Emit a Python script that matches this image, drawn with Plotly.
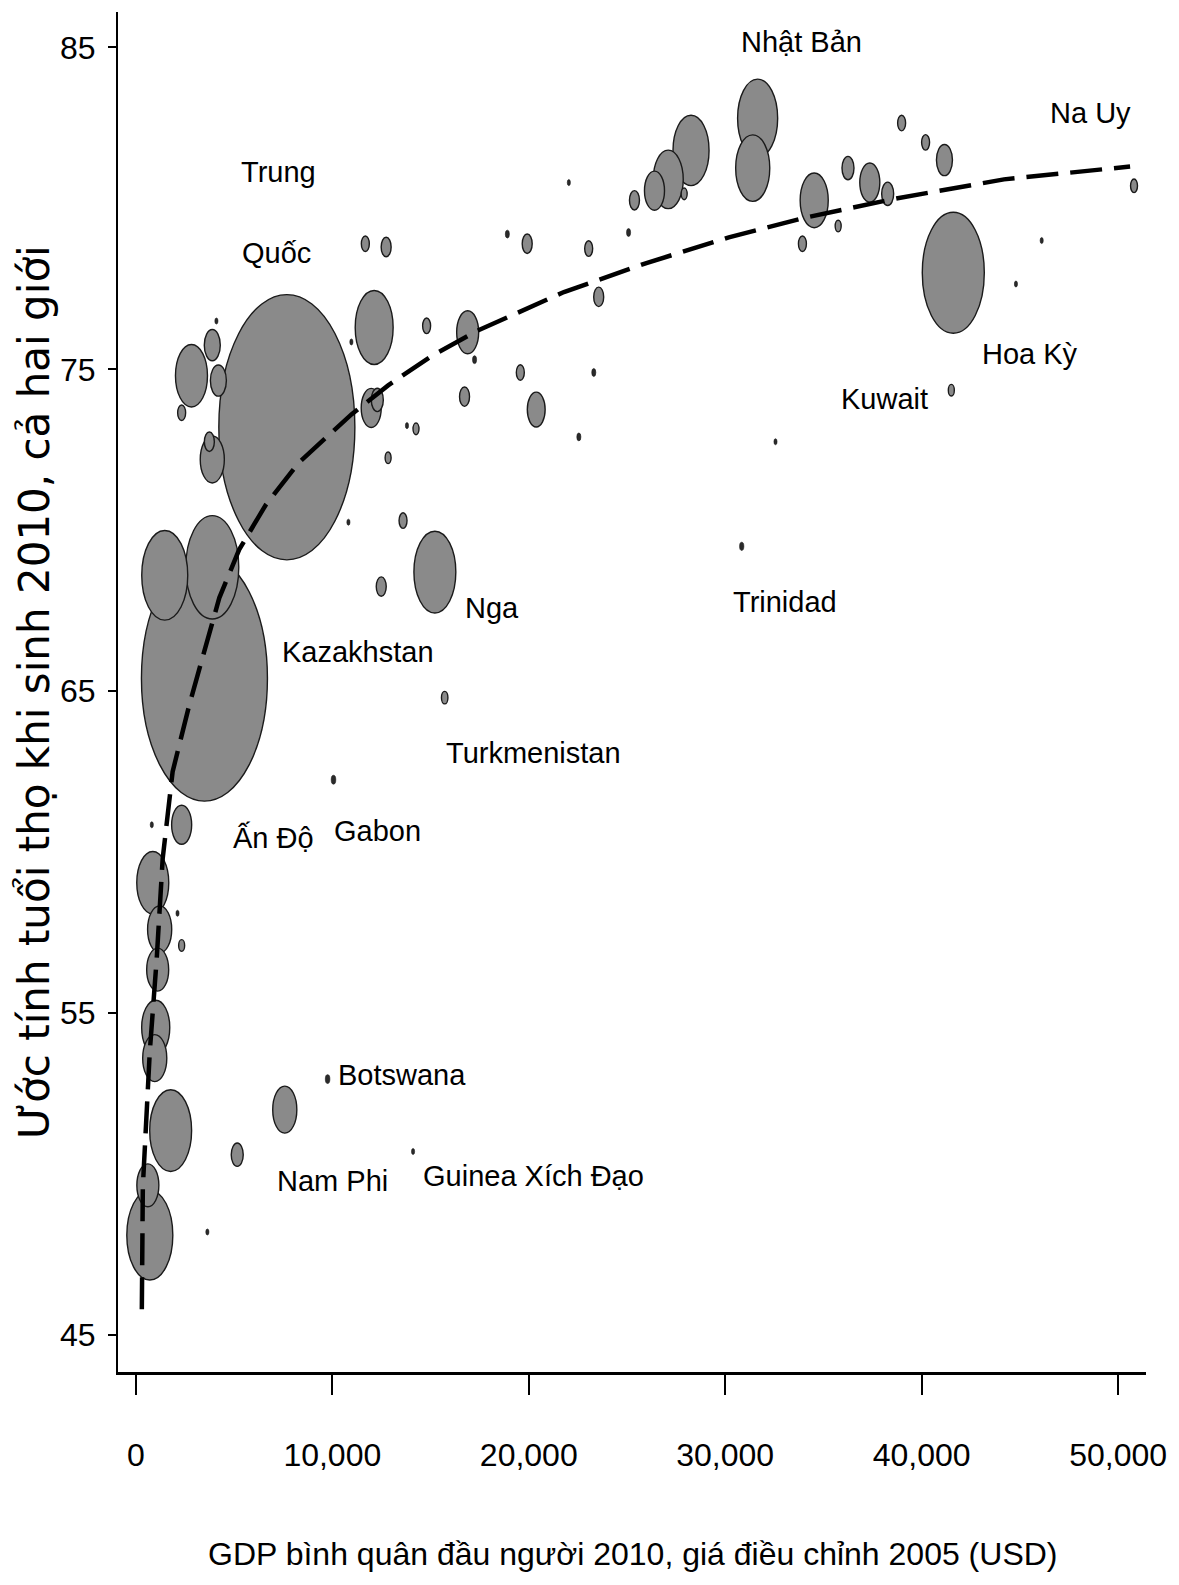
import math
import plotly.graph_objects as go

# ---------------- data ----------------
# GDP per capita 2010 (2005 USD), life expectancy 2010, population (millions)
gdp = [7685, 3490, 1470, 3890, 12130, 15220, 31650, 31400, 41610, 28260,
       27100, 26400, 34530, 37360, 41160, 38270, 36250, 38980, 40200, 50810,
       33930, 35750, 41510, 46110, 44800, 30840, 32560, 25380, 22040, 25080,
       27910, 19920, 18910, 23050, 23560, 16890, 14800, 17240, 16730, 19570,
       20380, 23310, 14260, 22550, 11680, 12740, 2830, 3890, 4200, 2330,
       4100, 10970, 11980, 12840, 3740, 3890, 10820, 13600, 12490, 10060,
       15720, 860, 1210, 1110, 1010, 960, 1770, 610, 710, 2120,
       2330, 810, 2330, 7580, 5160, 3640, 9760, 14110, 13800, 12290]
life_exp = [73.2, 65.4, 68.6, 68.85, 76.3, 68.7, 82.8, 81.25, 78.0, 81.8,
            80.9, 80.55, 80.25, 80.8, 81.5, 80.45, 81.25, 82.65, 82.05, 80.7,
            78.9, 79.45, 74.35, 79.0, 77.65, 69.5, 72.75, 80.25, 80.8, 79.25,
            80.45, 78.9, 79.2, 78.75, 77.25, 76.15, 76.35, 75.3, 74.15, 74.9,
            73.75, 74.9, 73.15, 72.9, 78.9, 78.8, 74.8, 75.75, 74.65, 73.65,
            76.5, 75.85, 73.8, 72.25, 72.75, 72.2, 70.25, 70.3, 68.25, 62.25,
            64.8, 59.05, 57.6, 56.35, 54.55, 53.6, 51.35, 49.65, 48.1, 58.1,
            57.1, 60.85, 60.85, 52.0, 50.6, 48.2, 52.95, 50.7, 73.25, 74.05]
population = [1337, 1147, 153, 203, 104, 127, 116, 84, 278, 94,
              65, 29, 57, 29, 18.5, 10.4, 10.4, 4.6, 4.6, 3.5,
              4.6, 2.6, 2.6, 0.7, 0.7, 1.3, 0.7, 7.2, 0.7, 1.2,
              2.6, 7.2, 1.2, 4.6, 7.2, 35, 4.6, 1.2, 7.2, 4.6,
              23, 1.2, 2.6, 1.2, 4.6, 7.2, 74, 18.5, 18.5, 4.6,
              0.7, 0.7, 29, 2.6, 7.2, 42, 0.7, 4.6, 7.2, 1.5,
              3.0, 74, 42, 35, 57, 42, 127, 35, 153, 0.7,
              2.6, 0.7, 29, 42, 10.4, 0.7, 1.5, 0.7, 0.7, 10.4]

# fitted trend curve
trend_gdp = [303, 354, 708, 1062, 1365, 1871, 2730, 3590, 4247, 5258, 6623,
             8292, 10972, 12842, 15016, 17393, 21791, 25988, 30184, 34000,
             38628, 44189, 50610]
trend_le = [45.8, 49.6, 53.8, 56.7, 59.8, 62.5, 64.6, 66.5, 67.9, 69.4, 70.8,
            72.1, 73.6, 74.5, 75.4, 76.2, 77.4, 78.3, 79.1, 79.7,
            80.3, 80.9, 81.3]

# country labels
label_text = ["Trung", "Quốc", "Nhật Bản", "Na Uy", "Hoa Kỳ", "Kuwait", "Nga",
              "Kazakhstan", "Trinidad", "Turkmenistan", "Gabon", "Ấn Độ",
              "Botswana", "Nam Phi", "Guinea Xích Đạo"]
label_gdp = [7281, 7180, 33875, 48590, 45500, 38120, 18150, 11325, 33066,
             20224, 12286, 7028, 13550, 10011, 20224]
label_le = [81.12, 78.6, 85.16, 82.95, 75.47, 74.07, 67.6, 66.21, 67.76,
            63.07, 60.65, 60.47, 53.07, 49.78, 49.94]

x_ticks = [0, 10000, 20000, 30000, 40000, 50000]
y_ticks = [45, 55, 65, 75, 85]

x_title = "GDP bình quân đầu người 2010, giá điều chỉnh 2005 (USD)"
y_title = "Ước tính tuổi thọ khi sinh 2010, cả hai giới"

# ---------------- styling ----------------
NARROW = "Liberation Sans, Arial, sans-serif"
WIDE = "DejaVu Sans, Verdana, sans-serif"
K = 1.86        # px of horizontal radius per sqrt(million people)
STRETCH = 1.95  # vertical / horizontal radius ratio

fig = go.Figure()

# bubbles as ellipses anchored at data coordinates, sized in pixels
order = sorted(range(len(gdp)), key=lambda i: -population[i])
shapes = []
for i in order:
    rx = K * math.sqrt(population[i])
    ry = rx * STRETCH
    small = population[i] < 2
    shapes.append(dict(
        type="circle", xref="x", yref="y",
        xsizemode="pixel", ysizemode="pixel",
        xanchor=gdp[i], yanchor=life_exp[i],
        x0=-rx, x1=rx, y0=-ry, y1=ry,
        fillcolor="#2a2a2a" if small else "#8a8a8a",
        line=dict(color="#1a1a1a", width=1.4 if not small else 0.6),
        layer="below",
    ))

# invisible points carrying the data (hover)
fig.add_trace(go.Scatter(
    x=gdp, y=life_exp, mode="markers",
    marker=dict(size=2, color="rgba(0,0,0,0)"),
    customdata=population,
    hovertemplate="GDP: %{x:,}<br>Tuổi thọ: %{y}<br>Dân số: %{customdata} triệu<extra></extra>",
    showlegend=False,
))

# dashed trend line
fig.add_trace(go.Scatter(
    x=trend_gdp, y=trend_le, mode="lines",
    line=dict(color="black", width=4.5, dash="32px,12px", shape="linear"),
    hoverinfo="skip", showlegend=False,
))

annotations = []
for t, gx, ly in zip(label_text, label_gdp, label_le):
    annotations.append(dict(
        x=gx, y=ly, xref="x", yref="y", text=t, showarrow=False,
        font=dict(family=NARROW, size=29, color="black"),
        xanchor="center", yanchor="middle",
    ))

annotations.append(dict(
    x=0.5, y=0, xref="paper", yref="paper", text=x_title, showarrow=False,
    xanchor="center", yanchor="middle", yshift=-182,
    font=dict(family=NARROW, size=32, color="black"),
))
annotations.append(dict(
    x=0, y=0.5, xref="paper", yref="paper", text=y_title, showarrow=False,
    xanchor="center", yanchor="middle", xshift=-84, textangle=-90,
    font=dict(family=WIDE, size=42, color="black"),
))

# the page body adds an 8 px offset, so the figure is sized to compensate
fig.update_layout(
    width=1163, height=1569,
    margin=dict(l=110, r=18, t=4, b=205),
    paper_bgcolor="white", plot_bgcolor="white",
    shapes=shapes, annotations=annotations,
    showlegend=False,
)
fig.update_xaxes(
    range=[-910, 51420], tickvals=x_ticks, tickformat=",d",
    showgrid=False, zeroline=False,
    showline=True, linecolor="black", linewidth=3,
    ticks="outside", ticklen=20, tickwidth=2, tickcolor="black",
    ticklabelstandoff=33, ticklabeloverflow="allow",
    tickfont=dict(family=NARROW, size=32, color="black"),
)
fig.update_yaxes(
    range=[43.85, 86.1], tickvals=y_ticks,
    showgrid=False, zeroline=False,
    showline=True, linecolor="black", linewidth=2,
    ticks="outside", ticklen=8, tickwidth=2, tickcolor="black",
    ticklabelstandoff=6,
    tickfont=dict(family=NARROW, size=32, color="black"),
)

fig.write_html("out.html")
